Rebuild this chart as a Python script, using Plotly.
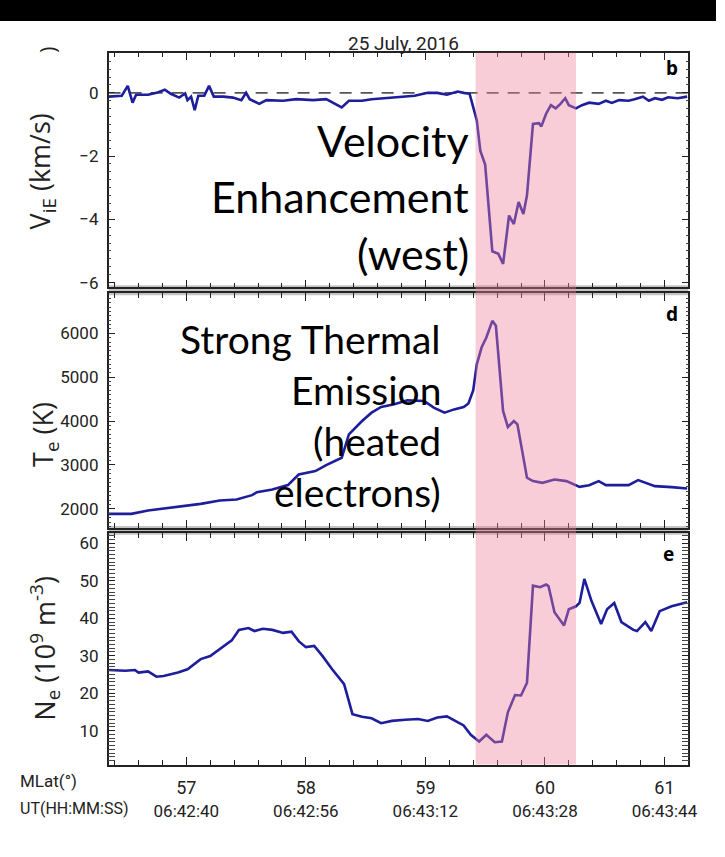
import plotly.graph_objects as go

# ---------------- data ----------------
mlat_v = [56.35, 56.46, 56.51, 56.55, 56.58, 56.68, 56.75, 56.82, 56.87, 56.94,
          56.99, 57.01, 57.04, 57.07, 57.10, 57.15, 57.19, 57.23, 57.31, 57.39,
          57.46, 57.50, 57.53, 57.61, 57.67, 57.81, 57.92, 58.06, 58.17, 58.22,
          58.30, 58.36, 58.47, 58.55, 58.66, 58.80, 58.91, 59.02, 59.10, 59.18,
          59.27, 59.32, 59.37, 59.43, 59.46, 59.50, 59.56, 59.61, 59.65, 59.70,
          59.74, 59.78, 59.82, 59.85, 59.90, 59.95, 59.97, 60.01, 60.05, 60.09,
          60.13, 60.17, 60.20, 60.26, 60.31, 60.37, 60.45, 60.51, 60.56, 60.62,
          60.70, 60.75, 60.82, 60.87, 60.92, 60.98, 61.03, 61.11, 61.19]
v_ie = [-0.12, -0.09, 0.22, -0.31, -0.06, -0.06, 0.00, 0.10, -0.03, -0.15,
        -0.02, -0.23, -0.12, -0.55, -0.09, -0.09, 0.22, -0.12, -0.12, -0.15,
        -0.23, 0.00, -0.20, -0.35, -0.23, -0.25, -0.20, -0.23, -0.20, -0.30,
        -0.46, -0.25, -0.25, -0.20, -0.17, -0.12, -0.09, 0.00, 0.00, -0.06,
        0.04, 0.00, -0.03, -0.87, -1.84, -2.27, -5.01, -5.09, -5.41, -3.88,
        -4.15, -3.45, -3.83, -3.24, -0.98, -0.96, -1.06, -0.66, -0.39, -0.49,
        -0.35, -0.17, -0.39, -0.49, -0.39, -0.31, -0.35, -0.25, -0.32, -0.23,
        -0.25, -0.20, -0.12, -0.25, -0.17, -0.22, -0.14, -0.17, -0.12]

mlat_t = [56.35, 56.54, 56.68, 56.82, 56.98, 57.12, 57.28, 57.42, 57.55, 57.59,
          57.72, 57.85, 57.94, 58.08, 58.17, 58.30, 58.36, 58.47, 58.55, 58.63,
          58.74, 58.85, 58.99, 59.07, 59.16, 59.24, 59.32, 59.36, 59.40, 59.43,
          59.47, 59.51, 59.56, 59.59, 59.65, 59.69, 59.74, 59.77, 59.85, 59.90,
          59.98, 60.08, 60.18, 60.29, 60.37, 60.45, 60.51, 60.70, 60.78, 60.92,
          61.06, 61.19]
te = [1886, 1886, 1962, 2008, 2060, 2114, 2190, 2213, 2313, 2381,
      2441, 2541, 2783, 2861, 2998, 3164, 3697, 4002, 4192, 4322,
      4382, 4473, 4458, 4306, 4192, 4267, 4322, 4400, 4700, 5295,
      5676, 5904, 6285, 6171, 4231, 3865, 4002, 3925, 2708, 2632,
      2594, 2669, 2632, 2502, 2540, 2632, 2540, 2540, 2655, 2517,
      2495, 2464]

mlat_n = [56.35, 56.49, 56.57, 56.60, 56.68, 56.75, 56.81, 56.93, 57.01, 57.12,
          57.20, 57.30, 57.38, 57.44, 57.52, 57.57, 57.64, 57.72, 57.81, 57.88,
          57.94, 58.00, 58.07, 58.14, 58.22, 58.32, 58.39, 58.47, 58.55, 58.63,
          58.72, 58.83, 58.94, 59.02, 59.10, 59.18, 59.24, 59.32, 59.38, 59.45,
          59.51, 59.58, 59.64, 59.69, 59.75, 59.80, 59.85, 59.90, 59.96, 60.01,
          60.03, 60.08, 60.16, 60.20, 60.26, 60.29, 60.33, 60.39, 60.47, 60.52,
          60.58, 60.64, 60.74, 60.77, 60.84, 60.89, 60.96, 61.06, 61.19]
ne = [26.2, 26.0, 26.2, 25.5, 25.8, 24.4, 24.6, 25.5, 26.4, 29.1,
      29.9, 32.2, 34.1, 36.9, 37.4, 36.6, 37.2, 36.9, 36.1, 36.4,
      33.9, 32.3, 32.6, 29.9, 26.4, 22.4, 14.4, 13.7, 13.3, 12.0,
      12.6, 12.9, 13.1, 12.6, 13.5, 13.8, 12.7, 11.4, 8.9, 7.1,
      8.9, 6.9, 7.1, 14.9, 19.5, 19.4, 22.8, 48.7, 48.3, 49.0,
      48.6, 41.6, 38.1, 42.4, 43.2, 44.1, 50.5, 44.6, 38.5, 42.4,
      44.1, 39.0, 36.9, 36.6, 39.0, 36.6, 41.9, 43.2, 44.3]

mlat_ticks = [57, 58, 59, 60, 61]
ut_labels = ["06:42:40", "06:42:56", "06:43:12", "06:43:28", "06:43:44"]
event_range = [59.42, 60.26]
title_text = "25 July, 2016"

# ---------------- layout helpers ----------------
W, H = 725, 857
def fx(px): return px / W
def fy(py): return 1 - py / H

X_RANGE = [56.35, 61.2]
LINE = "#1e1e9c"
NARROW = "Roboto, sans-serif"
SANS = "Lato, Open Sans, sans-serif"

fig = go.Figure()
fig.add_trace(go.Scatter(x=mlat_v, y=v_ie, mode="lines", line=dict(color=LINE, width=2.6),
                         xaxis="x", yaxis="y", showlegend=False))
fig.add_trace(go.Scatter(x=mlat_t, y=te, mode="lines", line=dict(color=LINE, width=2.6),
                         xaxis="x2", yaxis="y2", showlegend=False))
fig.add_trace(go.Scatter(x=mlat_n, y=ne, mode="lines", line=dict(color=LINE, width=2.6),
                         xaxis="x3", yaxis="y3", showlegend=False))
# invisible trace to host the UT tick axis
fig.add_trace(go.Scatter(x=[mlat_ticks[0]], y=[ne[0]], mode="markers", marker=dict(opacity=0),
                         xaxis="x4", yaxis="y3", showlegend=False, hoverinfo="skip"))

xdom = [fx(110), fx(697)]
panels = [(53, 289), (295, 531), (536, 769)]

def xax(anchor, show_labels):
    return dict(domain=xdom, range=X_RANGE, anchor=anchor, showline=True, linecolor="#222", linewidth=1.5,
                mirror="allticks", ticks="inside", ticklen=8, tickwidth=1.2, tickcolor="#222",
                tickvals=mlat_ticks, showgrid=False, zeroline=False,
                minor=dict(ticks="inside", dtick=0.2, ticklen=5, tickwidth=1, tickcolor="#222"),
                showticklabels=show_labels, tickfont=dict(family=NARROW, size=18, color="#222"),
                ticklabelstandoff=6)

def yax(anchor, dom, rng, tv, mdt):
    return dict(domain=[fy(dom[1]), fy(dom[0])], range=rng, anchor=anchor, showline=True, linecolor="#222",
                linewidth=1.5, mirror="allticks", ticks="inside", ticklen=7, tickwidth=1.2, tickcolor="#222",
                tickvals=tv, showgrid=False, zeroline=False,
                minor=dict(ticks="inside", dtick=mdt, ticklen=3, tickwidth=1, tickcolor="#444"),
                tickfont=dict(family=NARROW, size=17, color="#222"), ticklabelstandoff=5)

fig.update_layout(
    width=W, height=H, margin=dict(l=0, r=0, t=0, b=0),
    paper_bgcolor="white", plot_bgcolor="rgba(0,0,0,0)",
    xaxis=xax("y", False), xaxis2=xax("y2", False), xaxis3=xax("y3", True),
    xaxis4=dict(domain=xdom, range=X_RANGE, overlaying="x3", anchor="free", position=fy(769), side="bottom",
                showline=False, ticks="", tickvals=mlat_ticks, ticktext=ut_labels, showgrid=False,
                zeroline=False, tickfont=dict(family=NARROW, size=17, color="#222"), ticklabelstandoff=34),
    yaxis=yax("x", panels[0], [-6.15, 1.27], [-6, -4, -2, 0], 0.25),
    yaxis2=yax("x2", panels[1], [1566, 6913], [2000, 3000, 4000, 5000, 6000], 100),
    yaxis3=yax("x3", panels[2], [0.96, 62.8], [10, 20, 30, 40, 50, 60], 1),
)

shapes = [
    # top black bar
    dict(type="rect", xref="paper", yref="paper", x0=0, x1=1, y0=fy(21), y1=1,
         fillcolor="black", line=dict(width=0), layer="below"),
    # gray bands between panels
    dict(type="rect", xref="paper", yref="paper", x0=xdom[0], x1=xdom[1], y0=fy(297), y1=fy(287),
         fillcolor="#c4c4c4", line=dict(width=0), layer="below"),
    dict(type="rect", xref="paper", yref="paper", x0=xdom[0], x1=xdom[1], y0=fy(538), y1=fy(529),
         fillcolor="#c4c4c4", line=dict(width=0), layer="below"),
    # zero reference line
    dict(type="line", xref="x domain", yref="y", x0=0, x1=1, y0=0, y1=0,
         line=dict(color="#555", width=1.6, dash="12px,9px"), layer="below"),
    # event shading
    dict(type="rect", xref="x3", yref="paper", x0=event_range[0], x1=event_range[1],
         y0=fy(769), y1=fy(53), fillcolor="rgb(237,130,157)", opacity=0.4,
         line=dict(width=0), layer="above"),
]
fig.update_layout(shapes=shapes)

ann = []
def txt(x, y, s, size, family=SANS, xanchor="right", color="black", angle=0, bold=False):
    ann.append(dict(xref="paper", yref="paper", x=fx(x), y=fy(y), text=(f"<b>{s}</b>" if bold else s),
                    showarrow=False, xanchor=xanchor, yanchor="middle", textangle=angle,
                    font=dict(family=family, size=size, color=color)))

# title
txt(409, 44, title_text, 19, family=NARROW, xanchor="center", color="#222")
# descriptive labels
for s, y in [("Velocity", 141), ("Enhancement", 198), ("(west)", 255)]:
    txt(477, y, s, 43)
for s, y in [("Strong Thermal", 341), ("Emission", 392), ("(heated", 444), ("electrons)", 495)]:
    txt(449, y, s, 39)
# panel letters
txt(689, 68, "b", 19, family="Noto Sans", bold=True)
txt(689, 316, "d", 19, family="Noto Sans", bold=True)
txt(684, 557, "e", 19, family="Noto Sans", bold=True)
# y-axis titles
txt(43, 172, "V<sub>iE</sub> (km/s)", 27, family="Open Sans", xanchor="center", angle=-90, color="#222")
txt(45, 437, "T<sub>e</sub> (K)", 27, family="Open Sans", xanchor="center", angle=-90, color="#222")
txt(45, 652, "N<sub>e</sub> (10<sup>9</sup> m<sup>-3</sup>)", 27, family="Open Sans", xanchor="center",
    angle=-90, color="#222")
# x-axis row labels
txt(18, 786, "MLat(°)", 17, family=NARROW, xanchor="left", color="#222")
txt(18, 813, "UT(HH:MM:SS)", 16, family=NARROW, xanchor="left", color="#222")
# cropped remnant at top-left
txt(47, 50, ")", 22, family="Open Sans", xanchor="center", angle=-90, color="#222")
fig.update_layout(annotations=ann)

fig.write_html(
    "out.html",
    config={"displayModeBar": False},
    post_script="document.body.style.margin='0';document.body.style.padding='0';"
                "document.documentElement.style.overflow='hidden';document.body.style.overflow='hidden';",
)
